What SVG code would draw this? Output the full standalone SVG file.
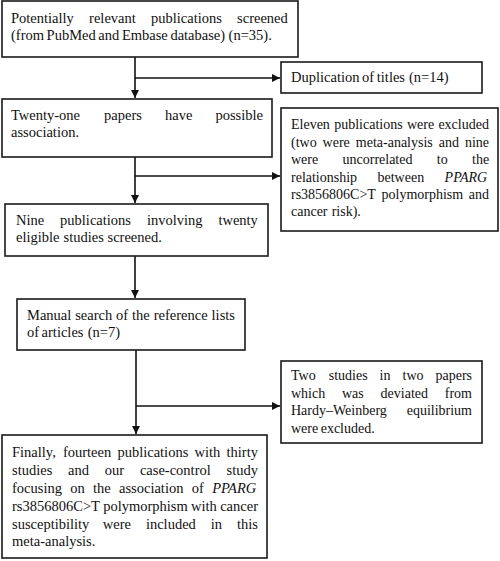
<svg xmlns="http://www.w3.org/2000/svg" width="500" height="561" viewBox="0 0 500 561">
<style>
.box{fill:#fff;stroke:#1a1a1a;stroke-width:1.6}
.t{font-family:"Liberation Serif","Times New Roman",serif;font-size:14.5px;fill:#111}
.s{font-size:14px}
.i{font-style:italic}
.ln{fill:none;stroke:#111;stroke-width:1.6}
</style>
<defs>
<marker id="ah" markerUnits="userSpaceOnUse" markerWidth="9" markerHeight="8" refX="8" refY="4" orient="auto">
<path d="M0,0 L8,4 L0,8 Z" fill="#111"/>
</marker>
</defs>
<rect width="500" height="561" fill="#fff"/>
<g id="connectors">
<line class="ln" x1="135" y1="57" x2="135" y2="98" marker-end="url(#ah)"/>
<line class="ln" x1="135" y1="78" x2="280" y2="78" marker-end="url(#ah)"/>
<line class="ln" x1="135" y1="157" x2="135" y2="203" marker-end="url(#ah)"/>
<line class="ln" x1="135" y1="176" x2="280" y2="176" marker-end="url(#ah)"/>
<line class="ln" x1="135" y1="256" x2="135" y2="298" marker-end="url(#ah)"/>
<line class="ln" x1="136" y1="350" x2="136" y2="434" marker-end="url(#ah)"/>
<line class="ln" x1="136" y1="406" x2="280" y2="406" marker-end="url(#ah)"/>
</g>
<g id="n1">
<rect class="box" x="2" y="1" width="296" height="56"/>
<text class="t" y="23"><tspan x="11">Potentially</tspan><tspan x="89.1">relevant</tspan><tspan x="151">publications</tspan><tspan x="237.1">screened</tspan></text>
<text class="t" y="40"><tspan x="11">(from</tspan><tspan x="46.6">PubMed</tspan><tspan x="98.3">and</tspan><tspan x="121.9">Embase</tspan><tspan x="170.4">database)</tspan><tspan x="228.6">(n=35).</tspan></text>
</g>
<g id="n2">
<rect class="box" x="281" y="62" width="201" height="31"/>
<text class="t" y="82"><tspan x="291">Duplication</tspan><tspan x="362.1">of</tspan><tspan x="376.8">titles</tspan><tspan x="409">(n=14)</tspan></text>
</g>
<g id="n3">
<rect class="box" x="2" y="99" width="270" height="58"/>
<text class="t" y="120"><tspan x="11">Twenty-one</tspan><tspan x="104.1">papers</tspan><tspan x="165">have</tspan><tspan x="215.4">possible</tspan></text>
<text class="t" x="11" y="137">association.</text>
</g>
<g id="n4">
<rect class="box" x="281" y="108" width="217" height="123"/>
<text class="t s" y="129"><tspan x="291">Eleven</tspan><tspan x="334.2">publications</tspan><tspan x="406.9">were</tspan><tspan x="438.4">excluded</tspan></text>
<text class="t s" y="146.5"><tspan x="291">(two</tspan><tspan x="322.6">were</tspan><tspan x="355.8">meta-analysis</tspan><tspan x="438.7">and</tspan><tspan x="464.9">nine</tspan></text>
<text class="t s" y="164"><tspan x="291">were</tspan><tspan x="342.5">uncorrelated</tspan><tspan x="436.8">to</tspan><tspan x="472">the</tspan></text>
<text class="t s" y="181.5"><tspan x="291">relationship</tspan><tspan x="377.5">between</tspan><tspan x="444.6" class="i">PPARG</tspan></text>
<text class="t s" y="199"><tspan x="291">rs3856806C&gt;T</tspan><tspan x="381.5">polymorphism</tspan><tspan x="468.8">and</tspan></text>
<text class="t s" y="216"><tspan x="291">cancer</tspan><tspan x="331.7">risk).</tspan></text>
</g>
<g id="n5">
<rect class="box" x="5" y="204" width="263" height="52"/>
<text class="t" y="225"><tspan x="16">Nine</tspan><tspan x="60.1">publications</tspan><tspan x="146.9">involving</tspan><tspan x="218.4">twenty</tspan></text>
<text class="t" y="242"><tspan x="16">eligible</tspan><tspan x="63.6">studies</tspan><tspan x="107.5">screened.</tspan></text>
</g>
<g id="n6">
<rect class="box" x="17" y="299" width="228" height="51"/>
<text class="t" y="320"><tspan x="27">Manual</tspan><tspan x="75.2">search</tspan><tspan x="116.1">of</tspan><tspan x="132.1">the</tspan><tspan x="153.7">reference</tspan><tspan x="211.6">lists</tspan></text>
<text class="t" y="337"><tspan x="27">of</tspan><tspan x="41.6">articles</tspan><tspan x="87.7">(n=7)</tspan></text>
</g>
<g id="n7">
<rect class="box" x="281" y="361" width="201" height="82"/>
<text class="t s" y="380"><tspan x="291">Two</tspan><tspan x="328.7">studies</tspan><tspan x="379.6">in</tspan><tspan x="402.5">two</tspan><tspan x="435.5">papers</tspan></text>
<text class="t s" y="397.5"><tspan x="291">which</tspan><tspan x="342">was</tspan><tspan x="380.6">deviated</tspan><tspan x="444.8">from</tspan></text>
<text class="t s" y="415"><tspan x="291">Hardy–Weinberg</tspan><tspan x="406.7">equilibrium</tspan></text>
<text class="t s" y="432.5"><tspan x="291">were</tspan><tspan x="320.7">excluded.</tspan></text>
</g>
<g id="n8">
<rect class="box" x="2" y="435" width="265" height="123"/>
<text class="t" y="457"><tspan x="12">Finally,</tspan><tspan x="62.9">fourteen</tspan><tspan x="117.4">publications</tspan><tspan x="194.5">with</tspan><tspan x="226.5">thirty</tspan></text>
<text class="t" y="475"><tspan x="12">studies</tspan><tspan x="68.1">and</tspan><tspan x="104.8">our</tspan><tspan x="139.9">case-control</tspan><tspan x="226.6">study</tspan></text>
<text class="t" y="493"><tspan x="12">focusing</tspan><tspan x="70.2">on</tspan><tspan x="93">the</tspan><tspan x="119">association</tspan><tspan x="191.8">of</tspan><tspan x="212.2" class="i">PPARG</tspan></text>
<text class="t" y="511"><tspan x="12">rs3856806C&gt;T</tspan><tspan x="103.2">polymorphism</tspan><tspan x="191.1">with</tspan><tspan x="220.2">cancer</tspan></text>
<text class="t" y="528.5"><tspan x="12">susceptibility</tspan><tspan x="102.8">were</tspan><tspan x="145.9">included</tspan><tspan x="210.7">in</tspan><tspan x="236.9">this</tspan></text>
<text class="t" x="12" y="546">meta-analysis.</text>
</g>
</svg>
